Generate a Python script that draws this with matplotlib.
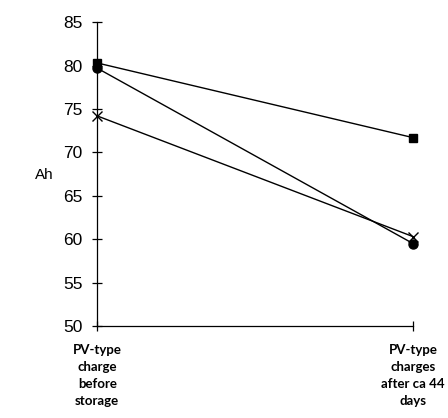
import matplotlib
matplotlib.use('Agg')
import matplotlib.pyplot as plt

stages = [0, 1]
stage_labels = ['PV-type\ncharge\nbefore\nstorage', 'PV-type\ncharges\nafter ca 44\ndays']
sq_vals = [80.3, 71.7]
circ_vals = [79.7, 59.5]
x_vals = [74.2, 60.3]

fig = plt.figure(figsize=(4.48, 4.18), dpi=100)
ax = fig.add_axes([0.217, 0.22, 0.705, 0.727])

ax.plot(stages, sq_vals, color='black', lw=1, marker='s', ms=6)
ax.plot(stages, circ_vals, color='black', lw=1, marker='o', ms=6.5)
ax.plot(stages, x_vals, color='black', lw=1, marker='x', ms=7, mew=1)

ax.set_xlim(0, 1)
ax.set_ylim(50, 85)
ax.set_yticks(range(50, 86, 5))
ax.set_xticks(stages)
ax.set_xticklabels([])
for s in ['top', 'right']:
    ax.spines[s].set_visible(False)
ax.spines['left'].set_linewidth(0.9)
ax.spines['bottom'].set_linewidth(0.9)
ax.tick_params(axis='y', direction='inout', length=7, width=0.9, labelsize=12.5, pad=7)
ax.tick_params(axis='x', direction='inout', length=7, width=0.9)
for lab in ax.get_yticklabels():
    lab.set_family('Liberation Sans')

for xv, txt in zip(stages, stage_labels):
    ax.text(xv, 47.9, txt, ha='center', va='top', fontsize=9.5, fontweight='bold',
            family='Lato', linespacing=1.5)

fig.text(35 / 448, 1 - 175 / 418, 'Ah', ha='left', va='center', fontsize=11, family='Liberation Sans')

for line in ax.lines:
    line.set_clip_on(False)

fig.savefig('out.png', dpi=100)
